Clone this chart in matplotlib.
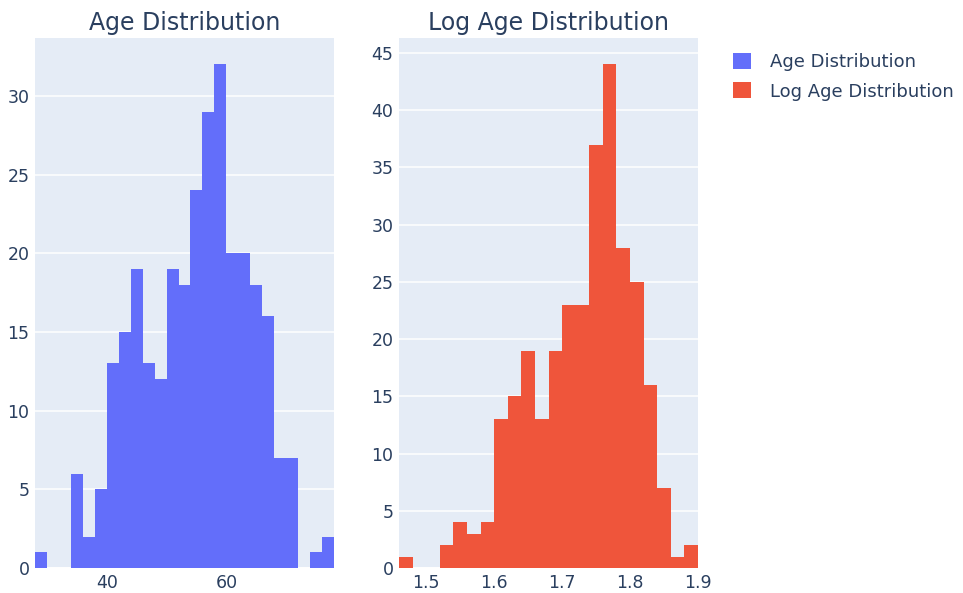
import numpy as np
import matplotlib
matplotlib.use("Agg")
import matplotlib.pyplot as plt
from matplotlib.patches import Patch

plt.rcParams['font.family'] = ['DejaVu Sans']

# Age histogram (bin size 2, starting at 28)
age_bin_start = 28
age_bin_size = 2
age_counts = [1, 0, 0, 6, 2, 5, 13, 15, 19, 13, 12, 19, 18, 24, 29, 32,
              20, 20, 18, 16, 7, 7, 0, 1, 2]

# Log age histogram (bin size 0.02, starting at 1.46)
log_bin_start = 1.46
log_bin_size = 0.02
log_counts = [1, 0, 0, 2, 4, 3, 4, 13, 15, 19, 13, 19, 23, 23, 37, 44,
              28, 25, 16, 7, 1, 2]

titles = ["Age Distribution", "Log Age Distribution"]
colors = ["#636EFA", "#EF553B"]
age_xticks = [40, 60]
log_xticks = [1.5, 1.6, 1.7, 1.8, 1.9]
age_yticks = [0, 5, 10, 15, 20, 25, 30]
log_yticks = [0, 5, 10, 15, 20, 25, 30, 35, 40, 45]

W, H = 963, 593
fig = plt.figure(figsize=(W / 100, H / 100), dpi=100)
fig.patch.set_facecolor("white")

txt = "#2a3f5f"
bg = "#E5ECF6"

def make_ax(x0, counts, start, size, color, title, xticks, yticks, xfmt):
    ax = fig.add_axes([x0 / W, 25 / H, 299 / W, 530 / H])
    ax.set_facecolor(bg)
    n = len(counts)
    edges = start + size * np.arange(n + 1)
    ax.bar(edges[:-1], counts, width=size, align="edge", color=color,
           linewidth=0, zorder=3)
    ax.set_xlim(edges[0], edges[-1])
    ax.set_ylim(0, max(counts) * 1.0526)
    ax.set_xticks(xticks)
    ax.set_xticklabels([xfmt(v) for v in xticks])
    ax.set_yticks(yticks)
    ax.grid(axis="y", color="white", linewidth=1.1, zorder=1)
    ax.axhline(0, color="white", linewidth=2, zorder=2)
    for s in ax.spines.values():
        s.set_visible(False)
    ax.tick_params(length=0, labelsize=12.5, labelcolor=txt, pad=4)
    ax.set_title(title, fontsize=17, color=txt, pad=6)
    return ax

make_ax(35, age_counts, age_bin_start, age_bin_size, colors[0], titles[0],
        age_xticks, age_yticks, lambda v: f"{v:d}")
make_ax(399, log_counts, log_bin_start, log_bin_size, colors[1], titles[1],
        log_xticks, log_yticks, lambda v: f"{v:.1f}")

handles = [Patch(facecolor=c, edgecolor="none", label=t) for c, t in zip(colors, titles)]
leg = fig.legend(handles=handles, loc="upper left", bbox_to_anchor=(726 / W, 1 - 46 / H),
                 frameon=False, fontsize=13, handlelength=1.0, handleheight=1.0,
                 handletextpad=1.05, labelspacing=0.6, borderaxespad=0)
for t in leg.get_texts():
    t.set_color(txt)

fig.savefig("out.png", dpi=100)
